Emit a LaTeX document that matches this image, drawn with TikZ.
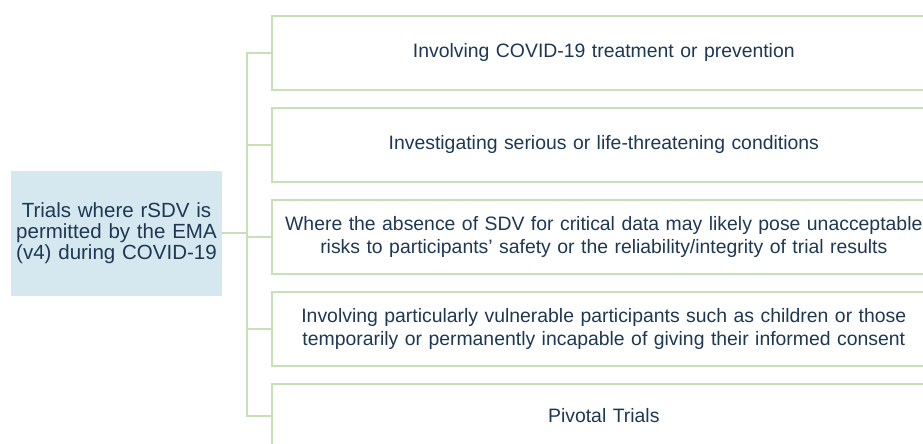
\documentclass[tikz,border=0pt]{standalone}
\usepackage{fontspec}
\setmainfont{Liberation Sans}
\definecolor{linegreen}{RGB}{200,224,184}
\definecolor{boxblue}{RGB}{213,232,239}
\definecolor{txt}{RGB}{30,56,84}
\begin{document}
\begin{tikzpicture}[x=1pt,y=-1pt,
  line/.style={draw=linegreen,line width=1.6pt},
  item/.style={line,fill=white,minimum width=664pt,minimum height=74pt,inner sep=0pt,
    text width=660pt,align=center,text=txt,font=\fontsize{19.4}{22.5}\selectfont,anchor=north west},
  root/.style={fill=boxblue,minimum width=211pt,minimum height=125pt,inner sep=0pt,
    text width=211pt,align=center,text=txt,font=\fontsize{20.5}{21}\selectfont}]
\useasboundingbox (0,0) rectangle (923,444);
\clip (0,0) rectangle (923,444);
\node[root] (L) at (116.5,233) {Trials where rSDV is\\ permitted by the EMA\\ (v4) during COVID-19};
\node[item] (b1) at (271,15) {Involving COVID-19 treatment or prevention};
\node[item] (b2) at (271,107) {Investigating serious or life-threatening conditions};
\node[item] (b3) at (271,199) {Where the absence of SDV for critical data may likely pose unacceptable\\ risks to participants’ safety or the reliability/integrity of trial results};
\node[item] (b4) at (271,291) {Involving particularly vulnerable participants such as children or those\\ temporarily or permanently incapable of giving their informed consent};
\node[item,minimum height=64pt] (b5) at (271,383) {Pivotal Trials};
\coordinate (j) at (247,233);
\draw[line] (L.east) -- (j);
\foreach \b in {b1,b2,b3,b4,b5} \draw[line] (j) |- (\b.west);
\end{tikzpicture}
\end{document}
